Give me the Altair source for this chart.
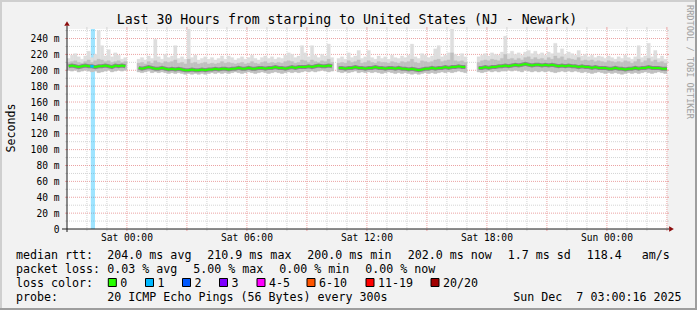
import altair as alt
import pandas as pd

MONO = "DejaVu Sans Mono"
STEP_H = 10 / 60          # one value every 10 minutes
STAMP_SEC = 16            # graph ends at 03:00:16

# ---------------- data (ms), one entry per 10-minute bin, None = no data ----------------
median_ms = [
    205, 206, 205, 204, 205, 206, 205, 205, 204, 205, 205, 206, 205, 204, 206, 205, 206, 205,
    None, None, None,
    203, 202, 203, 204, 203, 202, 202, 203, 202, 201,
    202, 201, 202, 201, 200, 200, 201, 200, 200, 201,
    200, 201, 201, 202, 201, 202, 202, 201, 202, 202,
    203, 202, 202, 203, 202, 202, 203, 203, 202, 203,
    203, 204, 203, 203, 202, 203, 204, 203, 204, 204,
    204, 205, 204, 205, 206, 205, 205, 206, 205,
    None,
    203, 203, 202, 203, 203, 204, 203, 203, 202, 203,
    203, 204, 203, 203, 202, 203, 203, 202, 203, 202,
    202, 201, 202, 201, 200, 201, 202, 202, 203, 202,
    203, 203, 204, 203, 204, 204, 205, 204, 204,
    None, None, None,
    203, 203, 204, 203, 204, 204, 205, 205,
    206, 205, 206, 207, 206, 207, 208, 207, 206, 207,
    207, 206, 207, 206, 207, 206, 205, 206, 205, 206,
    205, 205, 204, 205, 204, 204, 203, 204, 203, 203,
    203, 202, 202, 203, 202, 202, 201, 202, 202, 203,
    202, 203, 203, 204, 203, 203, 203, 202, 202, 202,
]

smoke_hi_ms = [
    215, 219, 221, 217, 214, 218, 224, 216, 220, 250, 231, 218, 226, 217, 222, 219, 214, 216,
    None, None, None,
    214, 216, 213, 218, 215, 239, 217, 214, 220, 216,
    218, 231, 215, 217, 214, 252, 216, 219, 213, 215,
    217, 214, 216, 213, 215, 218, 214, 218, 216, 213,
    215, 217, 214, 216, 219, 215, 213, 216, 218, 215,
    217, 214, 216, 215, 219, 222, 220, 216, 218, 231,
    222, 217, 231, 219, 216, 220, 218, 233, 216,
    None,
    215, 217, 214, 222, 216, 218, 225, 215, 217, 225,
    216, 214, 218, 215, 217, 214, 219, 216, 215, 218,
    216, 219, 233, 217, 215, 221, 219, 216, 218, 227,
    231, 217, 219, 222, 252, 220, 218, 221, 217,
    None, None, None,
    217, 219, 221, 218, 222, 220, 219, 223,
    243, 221, 224, 220, 222, 219, 223, 225, 221, 224,
    220, 222, 219, 223, 221, 234, 222, 227, 220, 223,
    221, 219, 225, 218, 220, 217, 219, 216, 218, 217,
    215, 218, 216, 214, 217, 215, 219, 216, 214, 217,
    231, 216, 218, 234, 217, 225, 215, 218, 214, 216,
]

smoke_mid_ms = [
    210, 211, 212, 210, 209, 211, 213, 210, 212, 214, 213, 211, 212, 210, 211, 212, 210, 211,
    None, None, None,
    209, 210, 208, 211, 209, 212, 210, 209, 211, 210,
    211, 213, 209, 210, 208, 214, 209, 210, 208, 209,
    210, 208, 209, 208, 209, 211, 209, 210, 209, 208,
    209, 210, 208, 209, 211, 209, 208, 210, 211, 209,
    210, 209, 210, 209, 211, 212, 211, 209, 210, 213,
    212, 210, 213, 211, 210, 212, 211, 214, 210,
    None,
    209, 210, 209, 212, 210, 211, 213, 209, 210, 212,
    210, 209, 211, 210, 210, 209, 211, 210, 209, 211,
    210, 211, 214, 210, 209, 212, 211, 210, 211, 213,
    214, 211, 212, 213, 222, 212, 211, 212, 210,
    None, None, None,
    210, 212, 213, 212, 214, 213, 212, 215,
    220, 214, 215, 213, 215, 213, 216, 217, 214, 216,
    214, 215, 213, 216, 214, 218, 215, 217, 213, 215,
    214, 213, 216, 212, 213, 212, 213, 211, 212, 211,
    210, 212, 211, 210, 211, 210, 212, 211, 209, 211,
    214, 210, 212, 215, 211, 213, 210, 211, 209, 210,
]

smoke_lo_ms = [
    200, 199, 200, 198, 199, 200, 199, 198, 199, 197, 198, 199, 200, 198, 199, 200, 199, 200,
    None, None, None,
    198, 197, 198, 199, 197, 198, 197, 198, 197, 196,
    197, 196, 197, 196, 195, 196, 195, 196, 195, 196,
    195, 196, 197, 196, 197, 196, 197, 196, 197, 198,
    197, 196, 197, 198, 197, 196, 197, 198, 197, 196,
    197, 198, 197, 196, 197, 198, 197, 198, 197, 198,
    199, 198, 199, 198, 199, 200, 199, 198, 199,
    None,
    198, 197, 198, 197, 198, 199, 197, 198, 197, 198,
    197, 198, 197, 196, 197, 198, 197, 196, 197, 196,
    197, 196, 195, 196, 195, 196, 197, 196, 197, 196,
    197, 198, 197, 198, 197, 198, 199, 198, 197,
    None, None, None,
    198, 197, 198, 199, 198, 199, 198, 199,
    199, 200, 199, 200, 199, 198, 200, 199, 198, 199,
    198, 199, 198, 199, 198, 197, 198, 199, 198, 199,
    198, 199, 198, 197, 198, 197, 196, 197, 198, 197,
    196, 197, 196, 197, 196, 195, 196, 197, 196, 197,
    196, 197, 198, 197, 196, 197, 198, 197, 196, 197,
]

# packet loss events (hours from graph start) and their loss class
loss_start_h = [1.19]
loss_end_h = [1.40]
loss_event_class = ["1"]

loss_labels = ["0", "1", "2", "3", "4-5", "6-10", "11-19", "20/20"]
loss_colors = ["#26ff00", "#00b8ff", "#0059ff", "#7e00ff", "#ff00ff", "#ff5500", "#ff0000", "#a10000"]

y_tick_values = [0, 20, 40, 60, 80, 100, 120, 140, 160, 180, 200, 220, 240]
y_tick_labels = ["0\u00a0\u00a0", "20 m", "40 m", "60 m", "80 m", "100 m", "120 m", "140 m",
                 "160 m", "180 m", "200 m", "220 m", "240 m"]
x_tick_clock_h = [3, 9, 15, 21, 27]   # hours after Fri 21:00
x_tick_labels = ["Sat 00:00", "Sat 06:00", "Sat 12:00", "Sat 18:00", "Sun 00:00"]

title_text = "Last 30 Hours from starping to United States (NJ - Newark)"
rtt_items = ["204.0 ms avg", "210.9 ms max", "200.0 ms min", "202.0 ms now", "1.7 ms sd", "118.4", "am/s"]
loss_items = ["0.03 % avg", "5.00 % max", "0.00 % min", "0.00 % now"]
probe_text = "20 ICMP Echo Pings (56 Bytes) every 300s"
stamp_text = "Sun Dec  7 03:00:16 2025"
watermark = "RRDTOOL / TOBI OETIKER"

# ---------------- layout ----------------
L, T, W, H = 67, 29, 600, 200
xs = alt.Scale(domain=[0, 30], nice=False, zero=False)
ys = alt.Scale(domain=[0, 252], nice=False, zero=False)
cscale = alt.Scale(domain=loss_labels, range=loss_colors)

seg, s, prev = [], 0, None
for m in median_ms:
    if m is not None and prev is None:
        s += 1
    seg.append(s if m is not None else None)
    prev = m

df = pd.DataFrame({"t": [i * STEP_H for i in range(len(median_ms))], "med": median_ms,
                   "lo": smoke_lo_ms, "hi": smoke_hi_ms, "mid": smoke_mid_ms, "seg": seg})
df["t2"] = df["t"] + STEP_H
df["tm"] = df["t"] + STEP_H / 2
data = df.dropna().reset_index(drop=True)
data["seg"] = data["seg"].astype(int)

lossdf = pd.DataFrame({"s": loss_start_h, "e": loss_end_h, "lab": loss_event_class})
lm = []
for _, r in lossdf.iterrows():
    sub = data[(data.tm >= r.s) & (data.tm <= r.e)].copy()
    sub["lab"] = r.lab
    lm.append(sub)
lossmed = pd.concat(lm)

one = pd.DataFrame({"d": [0]})
off = STAMP_SEC / 3600
vmin = pd.DataFrame({"h": [k - off for k in range(1, 31) if k % 3]})
vmaj = pd.DataFrame({"h": [k - off for k in range(1, 31) if k % 3 == 0]})
hmin = pd.DataFrame({"v": list(range(10, 251, 20))})
hmaj = pd.DataFrame({"v": list(range(20, 241, 20))})
ylab_df = pd.DataFrame({"v": y_tick_values, "lab": y_tick_labels})
xlab_df = pd.DataFrame({"h": [k - off for k in x_tick_clock_h], "lab": x_tick_labels})

GMIN = "#d4d4d4"
GMAJ = "#eba3a3"

layers = []


def vgrid(d, color):
    b = alt.Chart(d)
    X = alt.X("h:Q", scale=xs, axis=None)
    return [
        b.mark_rule(color=color, strokeDash=[1, 1], strokeWidth=1).encode(x=X, y=alt.value(0), y2=alt.value(H)),
        b.mark_rule(color=color, strokeWidth=1).encode(x=X, y=alt.value(-2), y2=alt.value(0)),
        b.mark_rule(color=color, strokeWidth=1).encode(x=X, y=alt.value(H), y2=alt.value(H + 2)),
    ]


def hgrid(d, color):
    b = alt.Chart(d)
    Y = alt.Y("v:Q", scale=ys, axis=None)
    return [
        b.mark_rule(color=color, strokeDash=[1, 1], strokeWidth=1).encode(y=Y, x=alt.value(0), x2=alt.value(W)),
        b.mark_rule(color=color, strokeWidth=1).encode(y=Y, x=alt.value(-2), x2=alt.value(0)),
        b.mark_rule(color=color, strokeWidth=1).encode(y=Y, x=alt.value(W), x2=alt.value(W + 2)),
    ]


def deco_rule(x, x2, y, y2, color, width):
    return alt.Chart(one).mark_rule(color=color, strokeWidth=width).encode(
        x=alt.value(x), x2=alt.value(x2), y=alt.value(y), y2=alt.value(y2))


def txt(s, ax, ay, size=11.65, align="left", angle=0, color="#000000"):
    s = s.replace("  ", "\u00a0\u00a0")
    return alt.Chart(one).mark_text(text=s, font=MONO, fontSize=size, align=align,
                                    baseline="alphabetic", angle=angle, color=color).encode(
        x=alt.value(ax - L), y=alt.value(ay - T))


# frame
layers += [
    deco_rule(-L, 697 - L, -T + 1, -T + 1, "#cfcfcf", 2),
    deco_rule(-L + 1, -L + 1, -T, 310 - T, "#cfcfcf", 2),
    deco_rule(-L, 697 - L, 310 - T - 1, 310 - T - 1, "#9e9e9e", 2),
    deco_rule(697 - L - 1, 697 - L - 1, -T, 310 - T, "#9e9e9e", 2),
]

layers += vgrid(vmin, GMIN) + hgrid(hmin, GMIN) + vgrid(vmaj, GMAJ) + hgrid(hmaj, GMAJ)

# loss bars
layers.append(alt.Chart(lossdf).mark_rect(opacity=0.38).encode(
    x=alt.X("s:Q", scale=xs, axis=None), x2="e:Q", y=alt.value(0), y2=alt.value(H),
    color=alt.Color("lab:N", scale=cscale, legend=None)))

# smoke
X_t = alt.X("t:Q", scale=xs, axis=None)
layers.append(alt.Chart(data).mark_rect(color="#dedede", stroke="#dedede", strokeWidth=0.3, clip=True).encode(
    x=X_t, x2="t2:Q", y=alt.Y("lo:Q", scale=ys, axis=None), y2="hi:Q"))
layers.append(alt.Chart(data).mark_rect(color="#c0c0c0", stroke="#c0c0c0", strokeWidth=0.3, clip=True).encode(
    x=X_t, x2="t2:Q", y=alt.Y("lo:Q", scale=ys, axis=None), y2="mid:Q"))

X_m = alt.X("tm:Q", scale=xs, axis=None)
Y_m = alt.Y("med:Q", scale=ys, axis=None)
layers.append(alt.Chart(data).mark_line(color="#444444", strokeWidth=4, opacity=0.45, clip=True).encode(
    x=X_m, y=Y_m, detail="seg:N"))
layers.append(alt.Chart(data).mark_line(color=loss_colors[0], strokeWidth=2, clip=True).encode(
    x=X_m, y=Y_m, detail="seg:N"))
layers.append(alt.Chart(lossmed).mark_rule(strokeWidth=2.5).encode(
    x=X_t, x2="t2:Q", y=Y_m, color=alt.Color("lab:N", scale=cscale, legend=None)))

# axes
layers += [
    deco_rule(-5, W + 2, H, H, "#1a1a1a", 1),
    deco_rule(0, 0, -3, H + 3, "#1a1a1a", 1),
    alt.Chart(one).mark_point(shape="triangle-right", filled=True, size=30, color="#8b0c0c", opacity=1).encode(
        x=alt.value(W + 4.5), y=alt.value(H)),
    alt.Chart(one).mark_point(shape="triangle-up", filled=True, size=30, color="#8b0c0c", opacity=1).encode(
        x=alt.value(0), y=alt.value(-5.5)),
]

layers.append(alt.Chart(ylab_df).mark_text(font=MONO, fontSize=9.6, align="right", baseline="alphabetic",
                                           dy=3.5, color="#000000").encode(
    y=alt.Y("v:Q", scale=ys, axis=None), x=alt.value(-7.5), text="lab:N"))
layers.append(alt.Chart(xlab_df).mark_text(font=MONO, fontSize=9.6, align="center", baseline="alphabetic",
                                           color="#000000").encode(
    x=alt.X("h:Q", scale=xs, axis=None), y=alt.value(212), text="lab:N"))

# titles
layers.append(txt(title_text, 347, 24, size=13.2, align="center"))
layers.append(txt("Seconds", 15, 128, angle=270, align="center"))
layers.append(txt(watermark, 687, 5, size=8.6, angle=90, color="#a0a0a0"))

# legend lines
layers.append(txt("median rtt:", 16, 258.5))
for s_, x_ in zip(rtt_items, [107.3, 207.3, 307.3, 407.7, 507.7, 586.7, 641.7]):
    layers.append(txt(s_, x_, 258.5))
layers.append(txt("packet loss:", 16, 272.5))
for s_, x_ in zip(loss_items, [107.3, 193.3, 279.3, 365.3]):
    layers.append(txt(s_, x_, 272.5))
layers.append(txt("loss color:", 16, 286.5))
for lab, col, bx in zip(loss_labels, loss_colors, [108.3, 145.5, 182.5, 219.5, 257, 307, 366, 431]):
    layers.append(alt.Chart(one).mark_rect(color=col, stroke="#000000", strokeWidth=1).encode(
        x=alt.value(bx - L), x2=alt.value(bx - L + 8), y=alt.value(278.5 - T), y2=alt.value(286.5 - T)))
    layers.append(txt(lab, bx + 12, 286.5))
layers.append(txt("probe:", 16, 300.5))
layers.append(txt(probe_text, 107.3, 300.5))
layers.append(txt(stamp_text, 513.3, 300.5))

chart = alt.layer(*layers).properties(
    width=W, height=H,
    padding={"left": L, "top": T, "right": 697 - L - W, "bottom": 310 - T - H},
    autosize=alt.AutoSizeParams(type="none"),
    background="#f2f2f2",
).configure_view(fill="white", stroke=None)

chart.save("out.html", embed_options={"renderer": "svg", "actions": False})
